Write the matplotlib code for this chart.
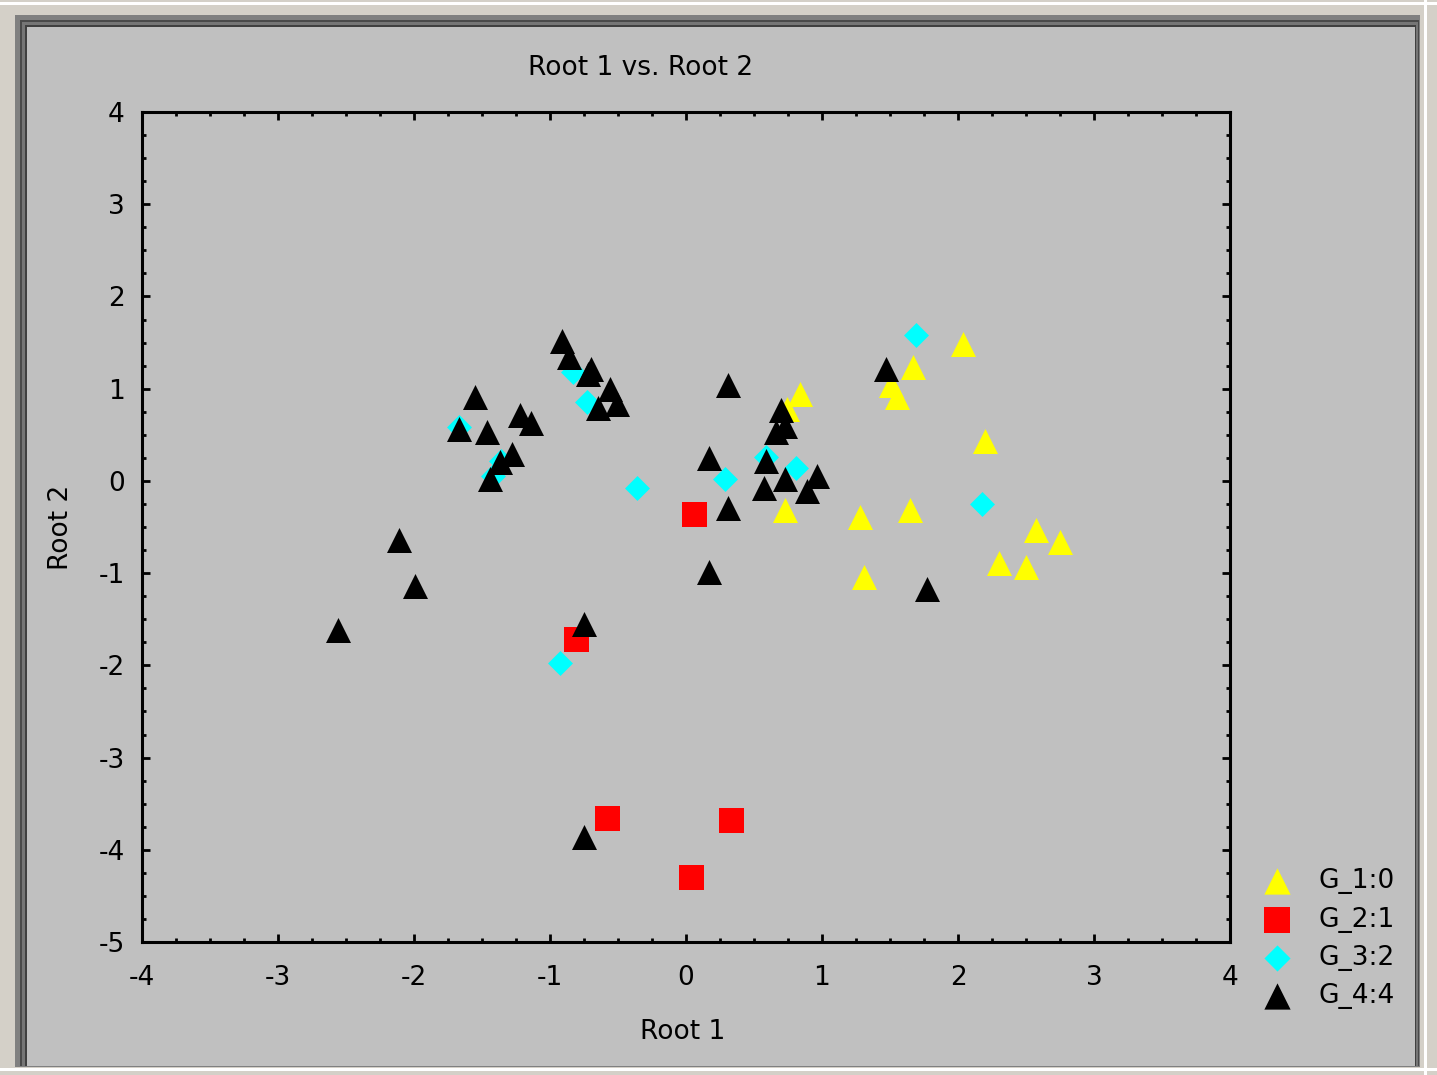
import matplotlib
matplotlib.use("Agg")
import matplotlib.pyplot as plt
from matplotlib.patches import Rectangle
from matplotlib.ticker import MultipleLocator

plt.rcParams['axes.unicode_minus'] = False
plt.rcParams['font.family'] = ['DejaVu Sans']

# ---- data (Root 1, Root 2) per group ----
g1_x = [1.67, 1.51, 1.55, 2.04, 2.20, 0.84, 0.74, 0.73, 1.28, 1.65, 2.57, 2.75, 2.30, 2.50, 1.31]
g1_y = [1.24, 1.04, 0.91, 1.48, 0.43, 0.94, 0.78, -0.32, -0.39, -0.32, -0.53, -0.66, -0.89, -0.93, -1.04]

g2_x = [0.06, -0.81, -0.58, 0.33, 0.04]
g2_y = [-0.36, -1.71, -3.65, -3.68, -4.30]

g3_x = [1.69, 2.18, -0.36, 0.29, 0.81, 0.59, -0.93, -0.83, -0.73, -1.67, -1.42, -1.36]
g3_y = [1.58, -0.25, -0.08, 0.02, 0.14, 0.26, -1.98, 1.18, 0.86, 0.58, 0.05, 0.22]

g4_x = [-0.91, -0.86, -0.70, -0.72, -0.56, -0.51, -0.65,
        -1.55, -1.67, -1.46, -1.22, -1.14, -1.28, -1.37, -1.44,
        1.47, 0.31, 0.70, 0.66, 0.73, 0.17, 0.31, 0.59, 0.57, 0.73, 0.96, 0.89,
        1.77, 0.17, -0.75, -0.75, -2.11, -1.99, -2.56]
g4_y = [1.52, 1.34, 1.21, 1.16, 1.00, 0.83, 0.79,
        0.91, 0.56, 0.53, 0.71, 0.63, 0.29, 0.20, 0.02,
        1.21, 1.04, 0.77, 0.53, 0.60, 0.25, -0.29, 0.22, -0.08, 0.02, 0.05, -0.11,
        -1.17, -0.99, -1.55, -3.86, -0.64, -1.14, -1.62]

labels = ["G_1:0", "G_2:1", "G_3:2", "G_4:4"]
x_ticks = [-4, -3, -2, -1, 0, 1, 2, 3, 4]
y_ticks = [4, 3, 2, 1, 0, -1, -2, -3, -4, -5]

W, H = 1437, 1075
FS = 19
fig = plt.figure(figsize=(W / 100, H / 100), dpi=100)
fig.patch.set_facecolor('#d4d0c8')

def frect(x0, y0, x1, y1, color):
    fig.patches.append(Rectangle((x0 / W, 1 - y1 / H), (x1 - x0) / W, (y1 - y0) / H,
                                 transform=fig.transFigure, facecolor=color,
                                 edgecolor='none', zorder=-10))

# window frame
frect(0, 2, W, 5, '#ffffff')
frect(1424, 0, 1427, H, '#ffffff')
frect(0, 1068, W, 1071, '#ffffff')
frect(15, 15, 1420, 1067, '#808080')
frect(20, 20, 1419, 1066, '#4a4a4a')
frect(22, 22, 1418, 1066, '#767676')
frect(25, 25, 1416, 1066, '#404040')
frect(27, 27, 1415, 1066, '#c0c0c0')

ax = fig.add_axes([142 / W, 1 - 942 / H, 1088 / W, 830 / H])
ax.set_facecolor('#c0c0c0')

ms_tri = 18 ** 2
ax.scatter(g1_x, g1_y, marker='^', s=ms_tri, c='#ffff00', linewidths=0, label=labels[0], zorder=3)
ax.scatter(g2_x, g2_y, marker='s', s=18 ** 2, c='#ff0000', linewidths=0, label=labels[1], zorder=3)
ax.scatter(g3_x, g3_y, marker='D', s=12.7 ** 2, c='#00ffff', linewidths=0, label=labels[2], zorder=3)
ax.scatter(g4_x, g4_y, marker='^', s=ms_tri, c='#000000', linewidths=0, label=labels[3], zorder=3)

ax.set_xlim(-4, 4)
ax.set_ylim(-5, 4)
ax.set_xticks(x_ticks)
ax.set_yticks(y_ticks)
ax.set_xticklabels([str(t) for t in x_ticks])
ax.set_yticklabels([str(t) for t in y_ticks])
ax.xaxis.set_minor_locator(MultipleLocator(0.25))
ax.yaxis.set_minor_locator(MultipleLocator(0.25))
ax.tick_params(which='both', direction='in', top=True, right=True, width=2.0, color='black')
ax.tick_params(which='major', length=5.6)
ax.tick_params(which='minor', length=3.0)
ax.tick_params(axis='x', which='major', pad=16.5, labelsize=FS)
ax.tick_params(axis='y', which='major', pad=12.5, labelsize=FS)
for s in ax.spines.values():
    s.set_linewidth(2.2)
    s.set_color('black')

fig.text(641 / W, 1 - 68 / H, "Root 1 vs. Root 2", ha='center', va='center', fontsize=FS)
fig.text(683 / W, 1 - 1032 / H, "Root 1", ha='center', va='center', fontsize=FS)
fig.text(61 / W, 1 - 527 / H, "Root 2", ha='center', va='center', fontsize=FS, rotation=90)

fig.legend(loc='upper left', bbox_to_anchor=(1237 / W, 1 - 855 / H), frameon=False,
           fontsize=FS, labelspacing=0.47, handletextpad=0.6, borderpad=0,
           scatterpoints=1, markerscale=1.05)

fig.savefig("out.png", dpi=100, facecolor=fig.get_facecolor())
